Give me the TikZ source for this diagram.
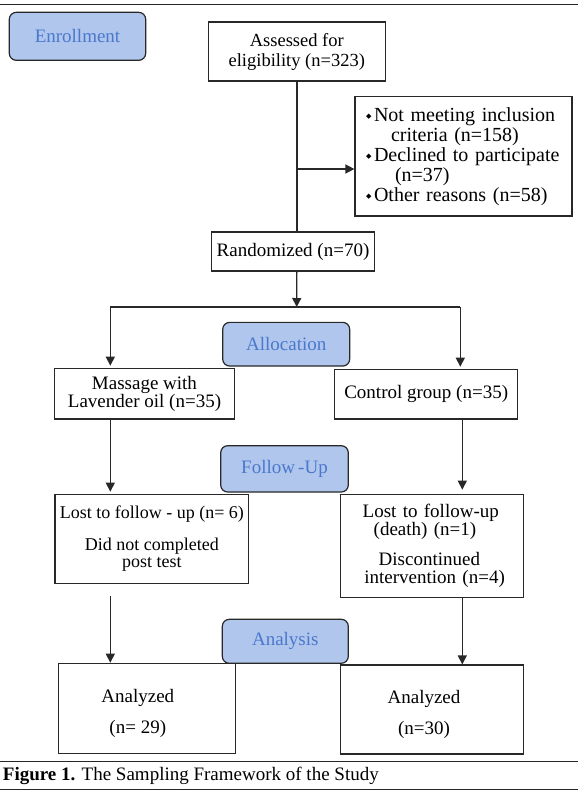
\documentclass[tikz,border=0pt]{standalone}
\usepackage{fontspec}
\setmainfont{Liberation Serif}
\newfontfamily\symfont{DejaVu Sans}
\usetikzlibrary{arrows.meta}
\definecolor{phasefill}{RGB}{176,198,236}
\definecolor{phasetext}{RGB}{74,120,205}
\definecolor{linegray}{RGB}{40,40,40}
\newcommand\bul{\makebox[8pt][l]{\raisebox{2.5pt}{\symfont\fontsize{7}{7}\selectfont ◆}}}
\begin{document}
\begin{tikzpicture}[x=1pt,y=-1pt,
  box/.style={draw=linegray, line width=1.2pt, inner sep=0pt, align=center,
    font=\fontsize{19}{20}\selectfont},
  phase/.style={draw=linegray, line width=1.2pt, rounded corners=7pt, fill=phasefill,
    text=phasetext, inner sep=0pt, font=\fontsize{19}{20}\selectfont},
  ln/.style={line width=1.4pt, draw=linegray},
  arr/.style={ln, -{Triangle[length=9pt,width=9pt]}},
  rulebar/.style={line width=1.1pt, draw=black!85}]
\useasboundingbox (0,0) rectangle (583,793);

% rules
\draw[rulebar] (0,4.7) -- (577.7,4.7);
\draw[rulebar] (0,761.7) -- (577.7,761.7);
\draw[rulebar] (0,789.3) -- (577.7,789.3);

% phase labels
\node[phase, minimum width=136.4pt, minimum height=48pt] (enroll) at (77.5,36.3) {Enrollment};
\node[phase, minimum width=127pt, minimum height=43.7pt] (alloc) at (286.2,344.2) {Allocation};
\node[phase, minimum width=127.6pt, minimum height=46.3pt] (follow) at (284.5,468.85) {Follow\thinspace-Up};
\node[phase, minimum width=126pt, minimum height=44pt] (analysis) at (285.3,641.3) {Analysis};

% boxes
\node[box, minimum width=177pt, minimum height=59pt, font=\fontsize{18.5}{20}\selectfont]
  (assess) at (296.8,51.5) {Assessed for\\eligibility (n=323)};
\node[box, minimum width=217pt, minimum height=119.3pt, text width=195pt, inner xsep=11pt,
  align=left, font=\fontsize{20}{20}\selectfont] (excl) at (463.5,156.35)
  {\bul Not meeting inclusion\\
   \hspace*{25pt}criteria (n=158)\\
   \bul Declined to participate\\
   \hspace*{29pt}(n=37)\\
   \bul Other reasons (n=58)};
\node[box, minimum width=162.6pt, minimum height=39pt] (rand) at (293,251.5) {Randomized (n=70)};
\node[box, minimum width=180.4pt, minimum height=50.7pt, font=\fontsize{19}{18}\selectfont]
  (massage) at (144.5,393.65) {Massage with\\Lavender oil (n=35)};
\node[box, minimum width=183pt, minimum height=49.7pt] (control) at (426.2,394.15) {Control group (n=35)};
\node[box, minimum width=193.7pt, minimum height=89.4pt, font=\fontsize{18}{17.3}\selectfont]
  (lostL) at (151.85,539) {Lost to follow - up (n= 6)\\[14.4pt]Did not completed\\post test};
\node[box, minimum width=182.6pt, minimum height=103pt, text width=150pt, inner xsep=16.3pt,
  align=left, font=\fontsize{19}{17}\selectfont] (lostR) at (432,545.8)
  {\hspace*{5.7pt}Lost to follow-up\\
   \hspace*{16.7pt}(death) (n=1)\\[12pt]
   \hspace*{21.7pt}Discontinued\\[0.5pt]
   \hspace*{7.3pt}intervention (n=4)};
\node[box, minimum width=177pt, minimum height=90pt] (anL) at (146.8,708.3)
  {\rule{0pt}{24pt}Analyzed\kern18pt\\[11pt](n= 29)\kern18pt};
\node[box, minimum width=182.6pt, minimum height=89pt] (anR) at (432,709.5)
  {\rule{0pt}{24pt}Analyzed\kern16pt\\[11pt](n=30)\kern16pt};

% caption
\node[anchor=west, inner sep=0pt, font=\fontsize{19}{20}\selectfont] (caption) at (2.7,776)
  {\textbf{Figure 1.} The Sampling Framework of the Study};

% connectors
\coordinate (br) at (296.7,169);
\coordinate (split) at (296.7,307);
\coordinate (splitL) at (110.3,307);
\coordinate (splitR) at (460.3,307);
\coordinate (colR) at (462.3,0);
\coordinate (lstart) at (110.3,596);

\draw[ln] (assess.south) -- (assess.south |- rand.north);
\draw[arr] (br) -- (br -| excl.west);
\draw[arr] (assess.south |- rand.south) -- (split);
\draw[ln] (splitL) -- (splitR);
\draw[arr] (splitL) -- ([yshift=2pt]splitL |- massage.north);
\draw[arr] (splitR) -- ([yshift=2pt]splitR |- control.north);
\draw[arr] (massage.south -| splitL) -- ([yshift=2pt]lostL.north -| splitL);
\draw[arr] (control.south -| colR) -- ([yshift=4pt]lostR.north -| colR);
\draw[arr] (lstart) -- (lstart |- anL.north);
\draw[arr] (lostR.south -| colR) -- (anR.north -| colR);
\end{tikzpicture}
\end{document}
